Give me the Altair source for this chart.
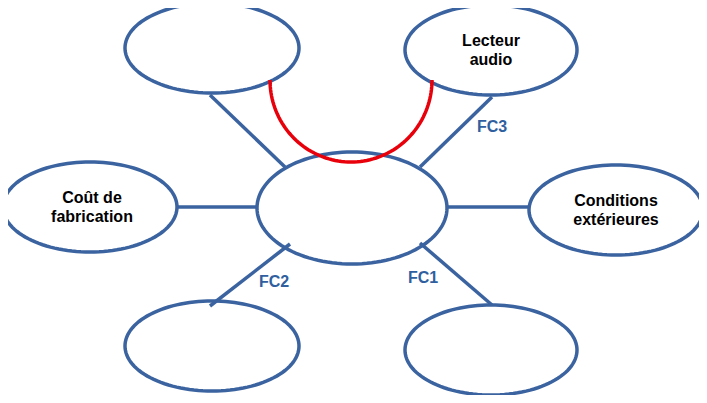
import altair as alt
import numpy as np
import pandas as pd

# ellipses: name, cx, cy, rx, ry (pixel space)
ell_names = ["tl", "tr", "l", "c", "r", "bl", "br"]
ell_cx = [212, 491, 90, 352, 616, 212, 491]
ell_cy = [48, 50, 207, 208, 210, 346, 350]
ell_rx = [87, 86, 87, 95, 87, 87, 86]
ell_ry = [45, 45, 45, 56, 45, 45, 45]

# connectors
con_x1 = [210, 492, 178, 447, 290, 420]
con_y1 = [95, 97, 207, 207, 244, 243]
con_x2 = [285, 420, 257, 530, 210, 492]
con_y2 = [167, 167, 207, 207, 306, 305]

# red arc: center, radii
arc_cx, arc_cy, arc_rx, arc_ry = 351, 80, 81, 82

labels = ["Lecteur\naudio", "Coût de\nfabrication", "Conditions\nextérieures"]
lab_x = [491, 92, 616]
lab_y = [50, 207, 210]

fc_labels = ["FC3", "FC2", "FC1"]
fc_x = [492, 274, 423]
fc_y = [127, 282, 278]

BLUE = "#3a63a0"

rows = []
t = np.linspace(0, 2 * np.pi, 121)
for n, cx, cy, rx, ry in zip(ell_names, ell_cx, ell_cy, ell_rx, ell_ry):
    for i, a in enumerate(t):
        rows.append({"id": n, "o": i, "x": cx + rx * np.cos(a), "y": cy + ry * np.sin(a)})
ell_df = pd.DataFrame(rows)

arc_rows = []
for i, a in enumerate(np.linspace(0, np.pi, 81)):
    arc_rows.append({"o": i, "x": arc_cx - arc_rx * np.cos(a), "y": arc_cy + arc_ry * np.sin(a)})
arc_df = pd.DataFrame(arc_rows)

con_df = pd.DataFrame({"x": con_x1, "y": con_y1, "x2": con_x2, "y2": con_y2})
lab_df = pd.DataFrame({"t": [s.split("\n") for s in labels], "x": lab_x, "y": lab_y})
fc_df = pd.DataFrame({"t": fc_labels, "x": fc_x, "y": fc_y})

xs = alt.Scale(domain=[8, 699])
ys = alt.Scale(domain=[395, 8])
X = lambda f: alt.X(f, type="quantitative", scale=xs, axis=None)
Y = lambda f: alt.Y(f, type="quantitative", scale=ys, axis=None)

conn = alt.Chart(con_df).mark_rule(color=BLUE, strokeWidth=3.5).encode(
    x=X("x"), y=Y("y"), x2="x2", y2="y2")
ells = alt.Chart(ell_df).mark_line(color=BLUE, strokeWidth=3.5, clip=False).encode(
    x=X("x"), y=Y("y"), detail="id:N", order="o:Q")
arc = alt.Chart(arc_df).mark_line(color="#e8000b", strokeWidth=3.5).encode(
    x=X("x"), y=Y("y"), order="o:Q")
labs = alt.Chart(lab_df).mark_text(font="Liberation Sans", fontSize=16, fontWeight="bold",
                                   color="black", lineHeight=19, baseline="middle", dy=-9).encode(
    x=X("x"), y=Y("y"), text="t")
fcs = alt.Chart(fc_df).mark_text(font="Liberation Sans", fontSize=16, fontWeight=600,
                                 color="#2f5f9e", baseline="middle").encode(
    x=X("x"), y=Y("y"), text="t")

chart = alt.layer(conn, ells, arc, labs, fcs).properties(
    width=691, height=387, padding=0, autosize="none"
).configure_view(stroke=None)

chart.save("out.html", embed_options={"renderer": "svg", "actions": False})
